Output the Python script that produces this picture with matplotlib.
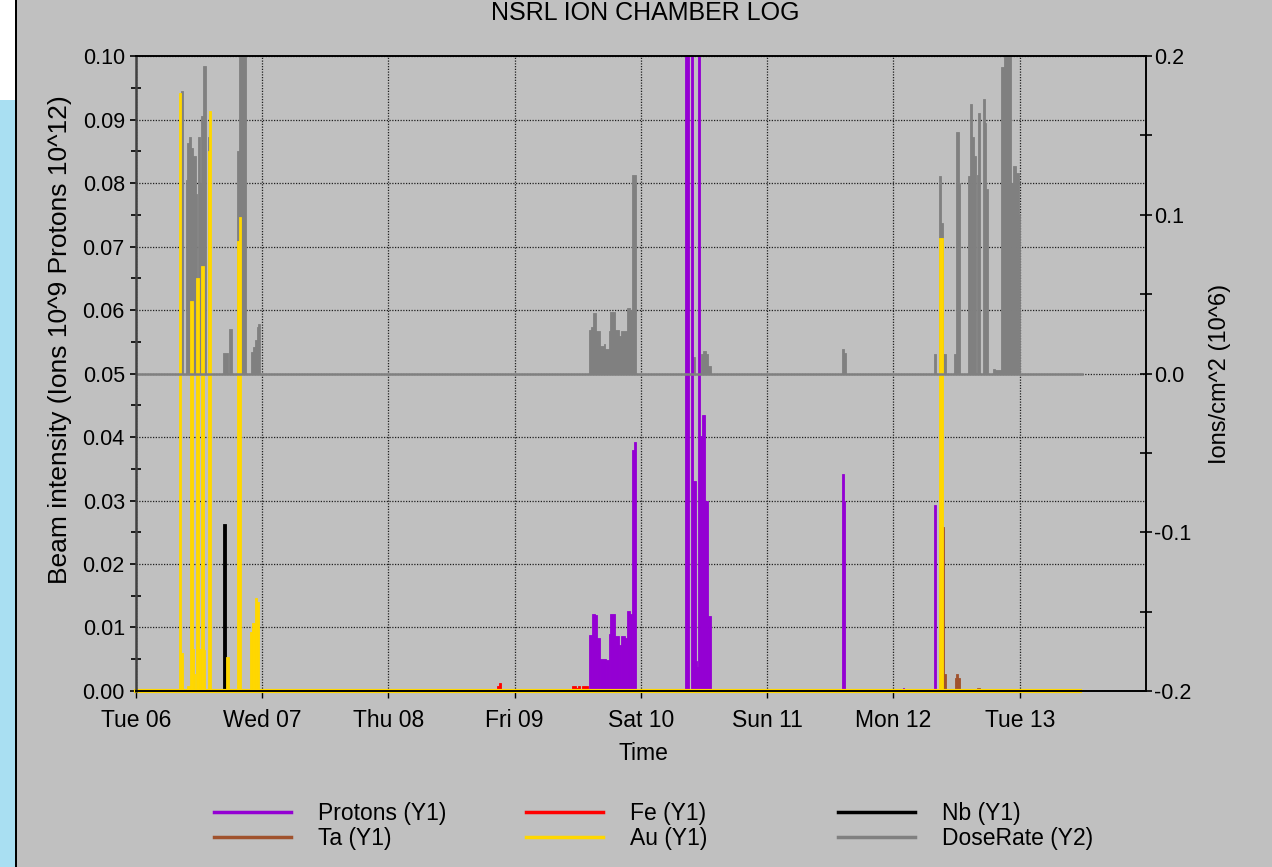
import matplotlib
matplotlib.use("Agg")
import matplotlib.pyplot as plt
import matplotlib.dates as mdates
from matplotlib.lines import Line2D
from matplotlib.patches import Rectangle
from matplotlib.ticker import MultipleLocator, FormatStrFormatter
import pandas as pd

plt.rcParams['font.family'] = ['Liberation Sans', 'DejaVu Sans']
plt.rcParams['axes.unicode_minus'] = False

start = pd.Timestamp('2016-12-06')
days = pd.date_range(start, periods=8, freq='D')
end_hours = 179.8

# segments: (start hour, end hour, value), hours counted from Tue 06 00:00
protons = [(86.08, 86.71, 0.0088), (86.71, 87.28, 0.0121), (87.28, 87.73, 0.0119),
           (87.73, 88.17, 0.0083), (88.17, 89.44, 0.005), (89.44, 89.94, 0.0049),
           (89.94, 90.20, 0.009), (90.20, 91.15, 0.0121), (91.15, 91.78, 0.0087),
           (91.78, 92.22, 0.0073), (92.22, 92.92, 0.0086), (92.92, 93.36, 0.0083),
           (93.36, 93.87, 0.0126), (93.87, 94.25, 0.0121), (94.25, 94.63, 0.038),
           (94.63, 95.01, 0.0392),
           (104.46, 105.08, 0.15), (105.46, 105.90, 0.15), (105.90, 106.41, 0.033),
           (106.41, 106.66, 0.0048), (106.66, 106.93, 0.0038), (106.93, 107.31, 0.15),
           (107.31, 107.69, 0.0402), (107.69, 108.26, 0.0434), (108.26, 108.75, 0.030),
           (108.75, 109.32, 0.0118),
           (134.21, 134.54, 0.0341), (134.54, 134.78, 0.030),
           (145.75, 145.94, 0.0004), (151.64, 152.15, 0.0293)]

fe = [(41.43, 42.0, 0.0003), (43.14, 43.90, 0.0003), (61.19, 61.57, 0.0003),
      (68.60, 68.98, 0.0008), (68.98, 69.30, 0.0013),
      (82.85, 83.61, 0.0008), (83.61, 83.99, 0.0004), (83.99, 84.50, 0.0008),
      (84.75, 85.89, 0.0008)]

nb = [(16.59, 17.05, 0.0263)]

ta = [(153.29, 153.60, 0.0259), (153.60, 154.05, 0.0027),
      (155.69, 155.95, 0.002), (155.95, 156.33, 0.0027), (156.33, 156.58, 0.002),
      (159.87, 160.51, 0.0005)]

au = [(8.17, 8.55, 0.0942), (8.55, 8.93, 0.006), (9.63, 10.26, 0.0008),
      (10.26, 10.77, 0.0614), (10.77, 11.02, 0.0066), (11.02, 11.27, 0.0027),
      (11.46, 11.97, 0.065), (11.97, 12.35, 0.0066), (12.35, 12.92, 0.067),
      (12.92, 13.11, 0.0064), (13.74, 13.87, 0.085), (13.87, 14.31, 0.0913),
      (17.10, 17.62, 0.0054), (19.25, 19.57, 0.0709), (19.57, 19.90, 0.0747),
      (21.66, 21.98, 0.0093), (21.98, 22.61, 0.0107), (22.61, 22.94, 0.0146),
      (22.94, 23.32, 0.014), (152.65, 153.41, 0.0713)]

dose = [(8.55, 8.99, 0.178), (9.44, 9.88, 0.122), (9.75, 10.13, 0.145),
        (10.01, 10.51, 0.149), (10.45, 10.89, 0.142), (10.89, 11.40, 0.137),
        (11.21, 11.65, 0.113), (11.72, 12.16, 0.149), (12.16, 12.35, 0.12),
        (12.35, 12.73, 0.162), (12.73, 13.24, 0.194), (13.62, 13.93, 0.149),
        (16.59, 17.48, 0.013), (17.73, 18.24, 0.028), (19.19, 19.57, 0.140),
        (19.52, 20.90, 0.25), (21.85, 22.29, 0.0138), (22.23, 22.80, 0.0164),
        (22.67, 23.05, 0.0214), (22.94, 23.32, 0.0296), (23.18, 23.56, 0.031),
        (86.08, 86.59, 0.0272), (86.59, 86.90, 0.029), (86.90, 87.41, 0.038),
        (87.41, 88.17, 0.0266), (88.17, 88.99, 0.0176), (88.99, 89.25, 0.0187),
        (89.25, 89.94, 0.0157), (89.94, 90.20, 0.0266), (90.20, 91.02, 0.0386),
        (91.02, 91.78, 0.0277), (91.78, 92.22, 0.0235), (92.22, 93.36, 0.027),
        (93.36, 93.87, 0.0413), (93.87, 94.31, 0.040), (94.31, 95.01, 0.125),
        (105.79, 106.22, 0.0107), (107.36, 107.74, 0.012), (107.74, 108.31, 0.014),
        (108.31, 108.75, 0.012), (108.75, 109.32, 0.005),
        (134.21, 134.54, 0.0155), (134.54, 134.92, 0.013), (151.70, 152.15, 0.0126),
        (152.59, 153.10, 0.1245), (153.10, 153.48, 0.095), (153.48, 154.05, 0.0126),
        (155.50, 155.82, 0.0126), (155.82, 156.45, 0.152), (156.45, 156.71, 0.12),
        (158.16, 158.48, 0.1245), (158.48, 158.86, 0.170), (158.86, 159.24, 0.149),
        (159.24, 159.62, 0.137), (159.87, 160.13, 0.125), (160.13, 160.51, 0.164),
        (161.08, 161.46, 0.173), (161.46, 161.65, 0.158), (161.65, 162.03, 0.116),
        (162.85, 163.23, 0.003), (163.23, 164.50, 0.002), (164.50, 165.00, 0.193),
        (165.00, 166.40, 0.25), (166.40, 166.71, 0.12), (166.71, 167.22, 0.131),
        (167.22, 167.79, 0.126), (167.79, 168.11, 0.100)]

colors = {'Protons': '#9400d3', 'Fe': '#ff0000', 'Nb': '#000000',
          'Ta': '#a0522d', 'Au': '#ffd700', 'DoseRate': '#808080'}
bg = '#c0c0c0'


def to_dates(hours):
    return mdates.date2num(start + pd.to_timedelta(hours, unit='h'))


def draw(ax, segs, color, **kw):
    t0 = to_dates([s[0] for s in segs])
    t1 = to_dates([s[1] for s in segs])
    ax.bar(t0, [s[2] for s in segs], width=t1 - t0, align='edge',
           color=color, edgecolor=color, linewidth=0.6, **kw)


fig = plt.figure(figsize=(12.72, 8.67), dpi=100, facecolor=bg)
ax = fig.add_axes([0.1069, 0.2030, 0.7940, 0.7324])
ax.set_facecolor(bg)
ax2 = ax.twinx()

ax.set_xlim(to_dates([0])[0], to_dates([192])[0])
ax.set_ylim(0, 0.1)
ax2.set_ylim(-0.2, 0.2)

ax.set_axisbelow(True)
ax.grid(True, which='major', color='#202020', linestyle=(0, (1, 1.2)), linewidth=0.9)

# dose rate drawn in ax so it stays behind the Y1 series, scaled by the right axis
draw(ax, dose, colors['DoseRate'], transform=ax2.transData)
ax.plot(to_dates([0, end_hours]), [0, 0], color=colors['DoseRate'], lw=1.8,
        transform=ax2.transData)
draw(ax, protons, colors['Protons'])
draw(ax, fe, colors['Fe'])
draw(ax, nb, colors['Nb'])
draw(ax, ta, colors['Ta'])
draw(ax, au, colors['Au'])
ax.plot(to_dates([0, end_hours - 0.3]), [0, 0], color=colors['Au'], lw=3, clip_on=False)

ax.set_xticks(mdates.date2num(days))
ax.xaxis.set_major_formatter(mdates.DateFormatter('%a %d'))
ax.yaxis.set_major_locator(MultipleLocator(0.01))
ax.yaxis.set_minor_locator(MultipleLocator(0.005))
ax.yaxis.set_major_formatter(FormatStrFormatter('%.2f'))
ax2.yaxis.set_major_locator(MultipleLocator(0.1))
ax2.yaxis.set_minor_locator(MultipleLocator(0.05))
ax2.yaxis.set_major_formatter(FormatStrFormatter('%.1f'))

ax.tick_params(axis='y', which='major', direction='out', length=4, width=1.2,
               labelsize=15.5, pad=4, colors='black')
ax.tick_params(axis='y', which='minor', direction='inout', length=7, width=1.2)
ax.tick_params(axis='x', which='major', direction='out', length=5, width=1,
               labelsize=16.5, pad=8)
ax2.tick_params(axis='y', which='both', direction='inout', length=8, width=1.2,
                labelsize=15.5, pad=2)

for side in ['top', 'right', 'bottom']:
    ax.spines[side].set_color('black')
    ax.spines[side].set_linewidth(1.4)
ax.spines['left'].set_color('#404040')
ax.spines['left'].set_linewidth(1.8)
for s in ax2.spines.values():
    s.set_visible(False)

ax.set_ylabel('Beam intensity (Ions 10^9 Protons 10^12)', fontsize=19)
ax.yaxis.set_label_coords(-0.063, 0.553)
ax2.set_ylabel('Ions/cm^2 (10^6)', fontsize=17)
ax2.yaxis.set_label_coords(1.062, 0.5)
ax.set_xlabel('Time', fontsize=16.5)
ax.xaxis.set_label_coords(0.502, -0.080)
fig.text(0.507, 0.985, 'NSRL ION CHAMBER LOG', ha='center', va='center', fontsize=18)

# legend in three fixed columns
groups = [['Protons', 'Ta'], ['Fe', 'Au'], ['Nb', 'DoseRate']]
axis_tag = {'DoseRate': 'Y2'}
col_x = [214 / 1272, 526 / 1272, 838 / 1272]
for names, x in zip(groups, col_x):
    handles = [Line2D([], [], color=colors[n], lw=2.5) for n in names]
    labels = ['%s (%s)' % (n, axis_tag.get(n, 'Y1')) for n in names]
    fig.legend(handles, labels, loc='center left', bbox_to_anchor=(x, 1 - 826 / 867),
               bbox_transform=fig.transFigure, frameon=False, fontsize=16.5,
               handlelength=3.36, handletextpad=1.18, labelspacing=0.12,
               borderpad=0, borderaxespad=0)

# page edge strip on the left
fig.add_artist(Rectangle((0, 0), 15 / 1272, 1 - 100 / 867, transform=fig.transFigure,
                         facecolor='#a9dff2', edgecolor='none'))
fig.add_artist(Rectangle((0, 1 - 100 / 867), 15 / 1272, 100 / 867, transform=fig.transFigure,
                         facecolor='white', edgecolor='none'))
fig.add_artist(Rectangle((15 / 1272, 0), 2 / 1272, 1, transform=fig.transFigure,
                         facecolor='black', edgecolor='none'))

fig.savefig('out.png', dpi=100, facecolor=bg)
